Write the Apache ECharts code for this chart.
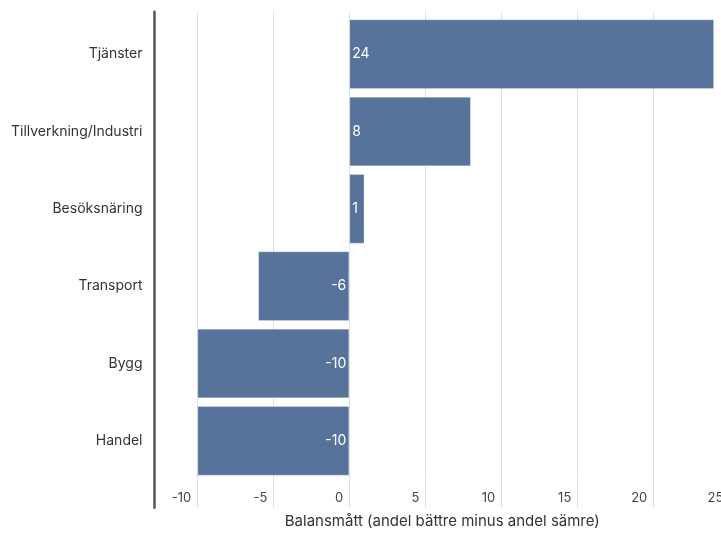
<!DOCTYPE html>
<html>
<head>
<meta charset="utf-8">
<script src="https://cdn.jsdelivr.net/npm/echarts@6/dist/echarts.min.js"></script>
<style>
html,body{margin:0;padding:0;background:#fff;}
#chart{width:721px;height:534px;}
</style>
</head>
<body>
<div id="chart"></div>
<script>
const categories = ["Tjänster", "Tillverkning/Industri", "Besöksnäring", "Transport", "Bygg", "Handel"];
const values = [24, 8, 1, -6, -10, -10];
const axisTitle = "Balansmått (andel bättre minus andel sämre)";

const FONT = "Inter";
const chart = echarts.init(document.getElementById('chart'), null, {renderer: 'canvas'});
chart.setOption({
  animation: false,
  textStyle: {fontFamily: FONT},
  grid: [
    {left: 197.3, width: 532, top: 15.5, bottom: 54.5, containLabel: false, outerBoundsMode: 'none'},
    {left: 154.5, width: 10, top: 11.7, bottom: 26.3, containLabel: false, outerBoundsMode: 'none'}
  ],
  xAxis: [
    {
      type: 'value', gridIndex: 0, min: -10, max: 25, interval: 5, position: 'bottom',
      axisLine: {show: false},
      axisTick: {show: true, length: 28, lineStyle: {color: '#dedede', width: 1}},
      splitLine: {show: true, lineStyle: {color: '#dedede', width: 1}},
      axisLabel: {color: '#444', fontSize: 13, fontFamily: FONT, align: 'right', padding: [0, 6, 0, 0], margin: 12},
      name: axisTitle, nameLocation: 'middle', nameGap: 34,
      nameTextStyle: {color: '#333', fontSize: 15, fontFamily: FONT, padding: [0, 42, 0, 0]}
    },
    {
      type: 'value', gridIndex: 0, min: -10, max: 25, interval: 5, position: 'top',
      axisLine: {show: false},
      axisTick: {show: true, length: 4, lineStyle: {color: '#dedede', width: 1}},
      splitLine: {show: false},
      axisLabel: {show: false}
    },
    {type: 'value', gridIndex: 1, show: false}
  ],
  yAxis: [
    {
      type: 'category', gridIndex: 0, data: categories, inverse: true, offset: 42.8,
      axisLine: {show: false}, axisTick: {show: false},
      axisLabel: {color: '#333', fontSize: 14, fontFamily: FONT, margin: 12}
    },
    {
      type: 'value', gridIndex: 1, min: 0, max: 1,
      axisLine: {show: true, lineStyle: {color: '#555', width: 2.5}},
      axisTick: {show: false}, axisLabel: {show: false}, splitLine: {show: false}
    }
  ],
  series: [{
    type: 'bar',
    xAxisIndex: 0, yAxisIndex: 0,
    data: values.map(v => ({
      value: v,
      label: {position: v >= 0 ? 'insideLeft' : 'insideRight'}
    })),
    barCategoryGap: '10%',
    itemStyle: {color: '#57739b', borderColor: 'rgba(255,255,255,0.25)', borderWidth: 1},
    label: {show: true, color: '#fff', fontSize: 14, fontFamily: FONT, distance: 3},
    emphasis: {disabled: true}
  }]
});
</script>
</body>
</html>
